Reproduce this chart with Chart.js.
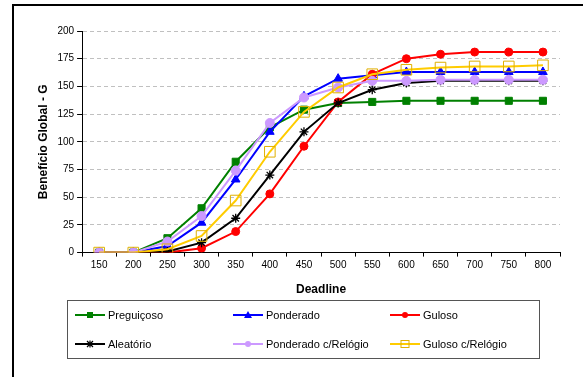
<!DOCTYPE html>
<html>
<head>
<meta charset="utf-8">
<script src="https://cdn.jsdelivr.net/npm/chart.js@4/dist/chart.umd.min.js"></script>
<style>
  body { margin: 0; background: #fff; }
  #wrap { position: relative; width: 583px; height: 377px; }
  #legend {
    position: absolute; left: 67px; top: 300px; width: 471px; height: 57px;
    border: 1px solid #555; font-family: "Liberation Sans", Arial, sans-serif; font-size: 11px; color: #000;
  }
  .item { position: absolute; display: flex; align-items: center; height: 14px; }
  .item svg { margin-right: 3px; }
</style>
</head>
<body>
<div id="wrap">
  <canvas id="chart" width="583" height="377"></canvas>
  <div id="legend"></div>
</div>
<script>
var deadlines = ['150', '200', '250', '300', '350', '400', '450', '500', '550', '600', '650', '700', '750', '800'];
var preguicoso   = [0, 0, 13, 40, 82, 113, 129, 135, 136, 137, 137, 137, 137, 137];
var ponderado    = [0, 0, 6, 27, 66, 109, 141, 157, 160, 163, 163, 163, 163, 163];
var guloso       = [0, 0, 0, 4, 19, 53, 96, 136, 161, 175, 179, 181, 181, 181];
var aleatorio    = [0, 0, 1, 9, 31, 70, 109, 135, 147, 153, 155, 155, 155, 155];
var ponderadoRel = [0, 0, 10, 33, 74, 117, 140, 149, 155, 155, 156, 156, 156, 156];
var gulosoRel    = [0, 0, 3, 15, 47, 91, 127, 149, 161, 165, 167, 168, 168, 169];
var yTicks = [0, 25, 50, 75, 100, 125, 150, 175, 200];

var series = [
    { label: 'Preguiçoso', data: preguicoso, color: '#008000', point: 'rect', radius: 5, fill: '#008000' },
    { label: 'Ponderado', data: ponderado, color: '#0000FF', point: 'triangle', radius: 5, fill: '#0000FF' },
    { label: 'Guloso', data: guloso, color: '#FF0000', point: 'circle', radius: 4, fill: '#FF0000' },
    { label: 'Aleatório', data: aleatorio, color: '#000000', point: 'star', radius: 4.5, fill: '#000000' },
    { label: 'Ponderado c/Relógio', data: ponderadoRel, color: '#CC99FF', point: 'circle', radius: 4.5, fill: '#CC99FF' },
    { label: 'Guloso c/Relógio', data: gulosoRel, color: '#FFCC00', point: 'rect', radius: 7.5, fill: 'rgba(0,0,0,0)', pborder: '#E0B000' }
];

// outer frame, only top and left edges show in the picture
var frame = {
    id: 'frame',
    afterDraw: function (chart) {
        var c = chart.ctx;
        c.save();
        c.strokeStyle = '#000';
        c.lineWidth = 2;
        c.beginPath();
        c.moveTo(583, 5);
        c.lineTo(13, 5);
        c.lineTo(13, 377);
        c.stroke();
        c.restore();
    }
};

var ctx = document.getElementById('chart');
var myChart = new Chart(ctx, {
    type: 'line',
    data: {
        labels: deadlines,
        datasets: series.map(function (s, i) {
            return {
                label: s.label,
                data: s.data,
                borderColor: s.color,
                backgroundColor: s.fill,
                borderWidth: 2,
                pointStyle: s.point,
                pointRadius: s.radius,
                pointBackgroundColor: s.fill,
                pointBorderColor: s.pborder || s.color,
                pointBorderWidth: s.point == 'star' ? 1.3 : 1,
                order: series.length - i,
                tension: 0
            };
        })
    },
    options: {
        responsive: false,
        animation: false,
        layout: { padding: { left: 32, top: 31, right: 23, bottom: 76 } },
        plugins: {
            legend: { display: false },
            tooltip: { enabled: false }
        },
        scales: {
            x: {
                offset: true,
                grid: { display: true, drawOnChartArea: false, drawTicks: true, tickLength: 4, offset: true, tickColor: '#000' },
                border: { display: true, color: '#000', width: 1 },
                ticks: { color: '#000', font: { family: 'Liberation Sans, Arial', size: 10 }, padding: 3, maxRotation: 0 },
                title: { display: true, text: 'Deadline', color: '#000', font: { family: 'Liberation Sans, Arial', size: 12, weight: 'bold' }, padding: { top: 8, bottom: 4 } }
            },
            y: {
                min: 0,
                max: 200,
                afterBuildTicks: function (axis) {
                    axis.ticks = yTicks.map(function (v) { return { value: v }; });
                },
                grid: { color: '#c0c0c0', tickColor: '#000', tickLength: 5 },
                border: { display: true, color: '#000', width: 1, dash: [4, 3] },
                ticks: { color: '#000', font: { family: 'Liberation Sans, Arial', size: 10 }, padding: 3 },
                title: { display: true, text: 'Benefício Global - G', color: '#000', font: { family: 'Liberation Sans, Arial', size: 12, weight: 'bold' } }
            }
        }
    },
    plugins: [frame]
});

// legend: three columns, two rows
function icon(s) {
    var m = '';
    if (s.point == 'rect' && s.radius > 6) {
        m = '<rect x="11" y="1.5" width="8" height="7" fill="none" stroke="' + s.pborder + '" stroke-width="1"/>';
    } else if (s.point == 'rect') {
        m = '<rect x="12" y="2" width="6" height="6" fill="' + s.fill + '"/>';
    } else if (s.point == 'triangle') {
        m = '<polygon points="15,1 19,8 11,8" fill="' + s.fill + '"/>';
    } else if (s.point == 'star') {
        m = '<path d="M12,2 L18,8 M18,2 L12,8 M15,1.5 L15,8.5" stroke="#000" stroke-width="1.2"/>';
    } else {
        m = '<circle cx="15" cy="5" r="3" fill="' + s.fill + '"/>';
    }
    return '<svg width="30" height="10"><line x1="0" y1="5" x2="30" y2="5" stroke="' + s.color + '" stroke-width="2"/>' + m + '</svg>';
}
var colX = [7, 165, 322];
var rowY = [7, 36];
var html = '';
series.forEach(function (s, i) {
    html += '<div class="item" style="left:' + colX[i % 3] + 'px;top:' + rowY[Math.floor(i / 3)] + 'px">' + icon(s) + '<span>' + s.label + '</span></div>';
});
document.getElementById('legend').innerHTML = html;
</script>
</body>
</html>
